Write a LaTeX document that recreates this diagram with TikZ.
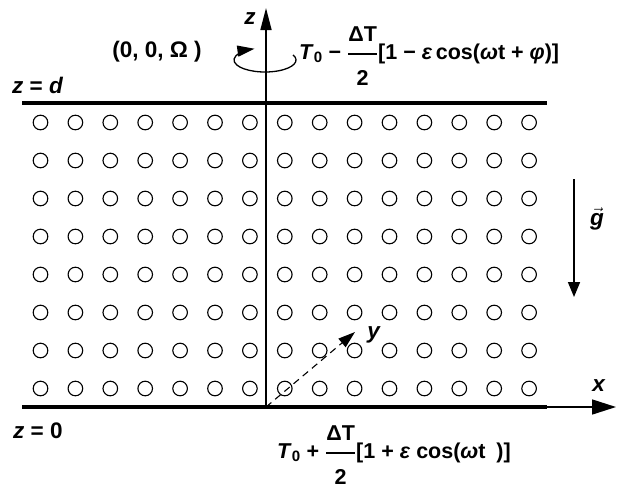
\documentclass[tikz,border=0pt]{standalone}
\usepackage{fontspec}
\usepackage{amsmath}
\setmainfont{Liberation Sans}
\usetikzlibrary{arrows.meta, positioning}
\newcommand{\hfrac}[2]{$\genfrac{}{}{1.4pt}{0}{\mbox{\rule[-7pt]{0pt}{7pt}#1}}{\mbox{\rule{0pt}{26.5pt}#2}}$}
\tikzset{
	lbl/.style={inner sep=0pt, font=\fontsize{22.5}{27}\selectfont\bfseries},
	formula/.style={inner sep=0pt, font=\fontsize{21.5}{26}\selectfont\bfseries},
	plate/.style={line width=3.2pt},
	axis/.style={line width=1.6pt},
	particle/.style={line width=1.1pt},
	zarrow/.style={-{Triangle[length=22pt, width=11pt]}},
	xarrow/.style={-{Triangle[length=24pt, width=15pt]}},
	garrow/.style={-{Triangle[length=15pt, width=12pt]}},
	yarrow/.style={line width=1.1pt, dash pattern=on 7pt off 5pt, -{Triangle[length=17pt, width=11pt]}},
	spin/.style={line width=1.3pt, -{Triangle[length=17pt, width=11pt]}}
}

\begin{document}
\begin{tikzpicture}[x=1pt, y=1pt]
	\useasboundingbox (0,0) rectangle (618,-488);
	% --- plates and axes ---
	\coordinate (O) at (266,-407);
	\coordinate (zTip) at (266,-8);
	\coordinate (xTip) at (616,-407);
	\coordinate (yTip) at (355,-332);
	\coordinate (topL) at (22,-103);
	\coordinate (topR) at (547,-103);
	\coordinate (botL) at (22,-407);
	\coordinate (botR) at (547,-407);
	\coordinate (gTop) at (574,-179);
	\coordinate (gBot) at (574,-297);
	
	% --- fluid particles ---
	\foreach \i in {0,...,14}
		\foreach \j in {0,...,7}
			\draw[particle] ({40.5+34.9*\i},{-122.5-38*\j}) circle (7.3);
	
	\draw[plate] (topL) -- (topR);
	\draw[plate] (botL) -- (botR);
	\draw[axis, zarrow] (O) -- (zTip);
	\draw[axis, xarrow] (O) -- (xTip);
	\draw[yarrow] (O) -- (yTip);
	\draw[axis, garrow] (gTop) -- (gBot);
	
	% --- rotation ---
	\draw[spin] (265,-60) ++(25:31 and 12) arc[start angle=25, end angle=-250, x radius=31, y radius=12];
	
	% --- labels ---
	\node[lbl] (zlab) at (250,-19) {\textit{z}};
	\node[lbl] (xlab) at (599,-386) {\textit{x}};
	\node[lbl] (ylab) at (374,-335) {\textit{y}};
	\node[lbl] (glab) at (597,-219) {$\vec{\mbox{\textit{g}}}$};
	\node[lbl] (omega) at (157,-52) {(0, 0, Ω )};
	\node[lbl, anchor=base west] (zd) at (12,-93) {\textit{z} = \textit{d}};
	\node[lbl, anchor=base west] (zzero) at (13,-438) {\textit{z} = 0};
	\node[formula, anchor=base west] (Ttop) at (299,-59)
		{\textit{T}\textsubscript{0} − \hfrac{ΔT}{2}[1 − \textit{ε}\,cos(\textit{ω}t + \textit{φ})]};
	\node[formula, anchor=base west] (Tbot) at (277,-458)
		{\textit{T}\textsubscript{0} + \hfrac{ΔT}{2}[1 + \textit{ε} cos(\textit{ω}t\enspace)]};
\end{tikzpicture}
\end{document}
